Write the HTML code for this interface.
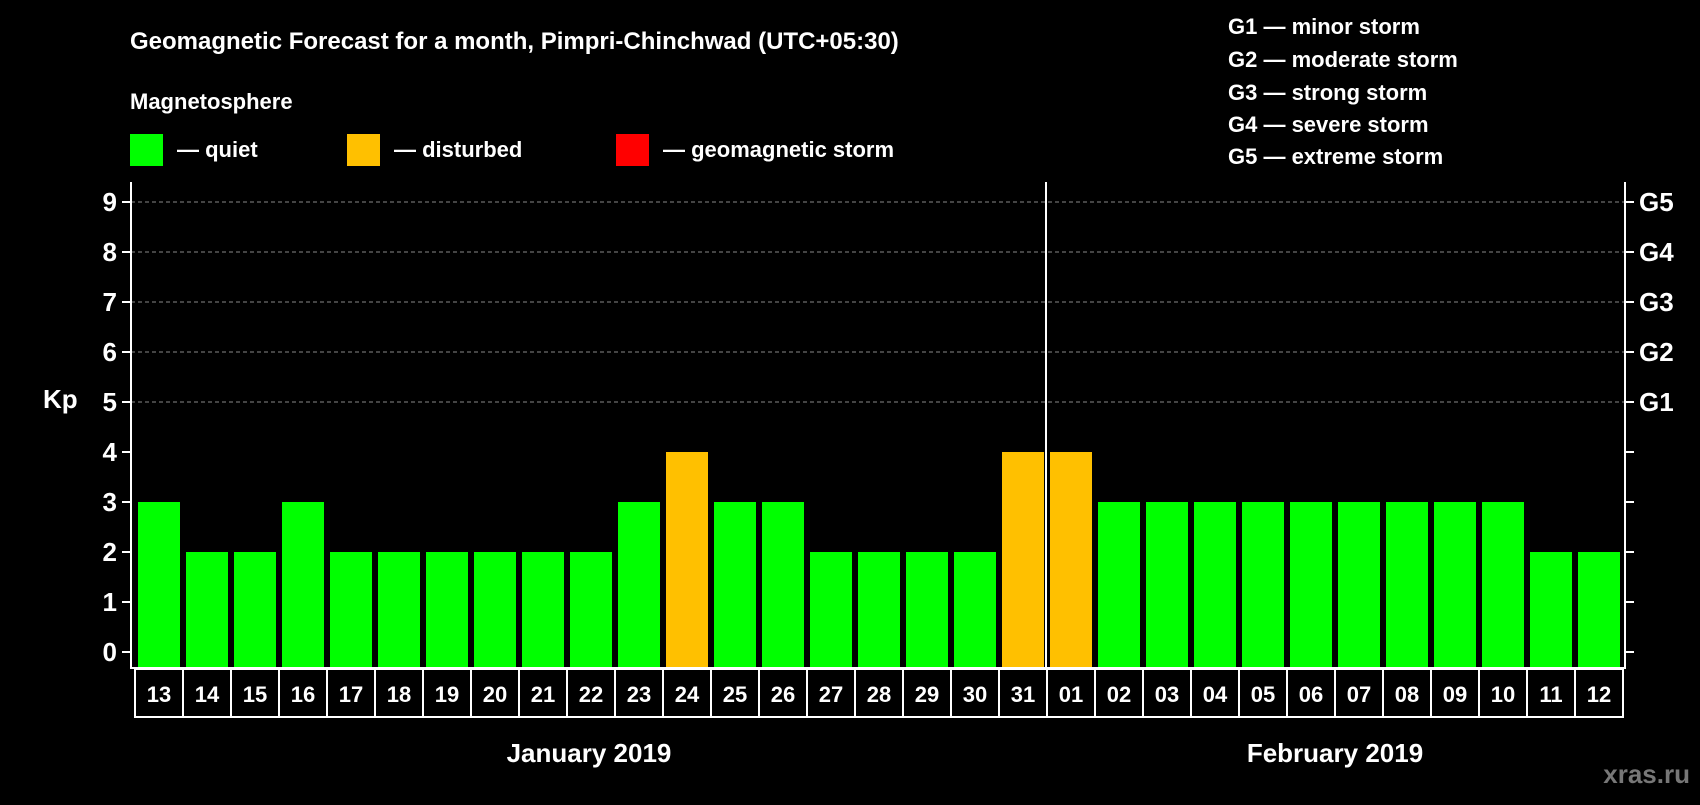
<!DOCTYPE html>
<html><head><meta charset="utf-8"><style>
body{margin:0;background:#000;width:1700px;height:800px;overflow:hidden;font-family:"Liberation Sans",sans-serif;font-weight:bold;}
</style></head><body>
<svg id="c" width="1700" height="800" xmlns="http://www.w3.org/2000/svg" font-family="Liberation Sans, sans-serif" font-weight="bold">
<text x="130" y="49" fill="#fff" font-size="24">Geomagnetic Forecast for a month, Pimpri-Chinchwad (UTC+05:30)</text>
<text x="130" y="109" fill="#fff" font-size="22">Magnetosphere</text>
<g>
<rect x="130" y="134" width="33" height="32" fill="#00ff00"/>
<text x="177" y="157" fill="#fff" font-size="22">— quiet</text>
<rect x="347" y="134" width="33" height="32" fill="#ffc000"/>
<text x="394" y="157" fill="#fff" font-size="22">— disturbed</text>
<rect x="616" y="134" width="33" height="32" fill="#ff0000"/>
<text x="663" y="157" fill="#fff" font-size="22">— geomagnetic storm</text>
</g>
<g fill="#fff" font-size="22">
<text x="1228" y="34">G1 — minor storm</text>
<text x="1228" y="67">G2 — moderate storm</text>
<text x="1228" y="100">G3 — strong storm</text>
<text x="1228" y="132">G4 — severe storm</text>
<text x="1228" y="164">G5 — extreme storm</text>
</g>
<text x="43" y="408" fill="#fff" font-size="26">Kp</text>
<text x="589" y="762" fill="#fff" font-size="26" text-anchor="middle">January 2019</text>
<text x="1335" y="762" fill="#fff" font-size="26" text-anchor="middle">February 2019</text>
<text x="1690" y="783" fill="#777" font-size="26" text-anchor="end">xras.ru</text>
<g id="plot"></g>
</svg>
<script>
const days=["13","14","15","16","17","18","19","20","21","22","23","24","25","26","27","28","29","30","31","01","02","03","04","05","06","07","08","09","10","11","12"];
const kp=[3,2,2,3,2,2,2,2,2,2,3,4,3,3,2,2,2,2,4,4,3,3,3,3,3,3,3,3,3,2,2];
const yTicks=[0,1,2,3,4,5,6,7,8,9];
const gLabels=["G1","G2","G3","G4","G5"];
const gLevels=[5,6,7,8,9];
const monthBreak=19;
const NS="http://www.w3.org/2000/svg";
const g=document.getElementById('plot');
const X0=135,PITCH=48,PL=131,PR=1625,PT=182,PB=668;
const y=v=>652-v*50;
const x=i=>X0+i*PITCH;
function mk(t,a){const e=document.createElementNS(NS,t);for(const k in a)e.setAttribute(k,a[k]);g.appendChild(e);return e;}
gLevels.forEach(v=>{const l=mk('line',{x1:PL,x2:PR,y1:y(v),y2:y(v),stroke:'#888','stroke-dasharray':'4,3'});

});
kp.forEach((v,i)=>{const r=mk('rect',{x:x(i)+3,y:y(v),width:42,height:PB-y(v),fill:v>=5?'#ff0000':v>=4?'#ffc000':'#00ff00'});


const b=mk('rect',{x:x(i),y:PB+1,width:PITCH,height:48,fill:'none',stroke:'#fff','stroke-width':2});


const t=mk('text',{x:x(i)+PITCH/2,y:PB+34,fill:'#fff','font-size':22,'text-anchor':'middle'});t.textContent=days[i];

});
const ax=mk('path',{d:`M${PL} ${PT}V${PB}H${PR}V${PT}`,stroke:'#fff','stroke-width':2,fill:'none'});


const ml=mk('line',{x1:x(monthBreak)-1,x2:x(monthBreak)-1,y1:PT,y2:PB,stroke:'#fff','stroke-width':2});


yTicks.forEach(v=>{mk('line',{x1:PL-9,x2:PL,y1:y(v),y2:y(v),stroke:'#fff','stroke-width':2});
mk('line',{x1:PR,x2:PR+9,y1:y(v),y2:y(v),stroke:'#fff','stroke-width':2});
const t=mk('text',{x:117,y:y(v)+9,fill:'#fff','font-size':26,'text-anchor':'end'});t.textContent=v;

});
gLevels.forEach((v,i)=>{const t=mk('text',{x:1639,y:y(v)+9,fill:'#fff','font-size':26});t.textContent=gLabels[i];

});
</script>
</body></html>
